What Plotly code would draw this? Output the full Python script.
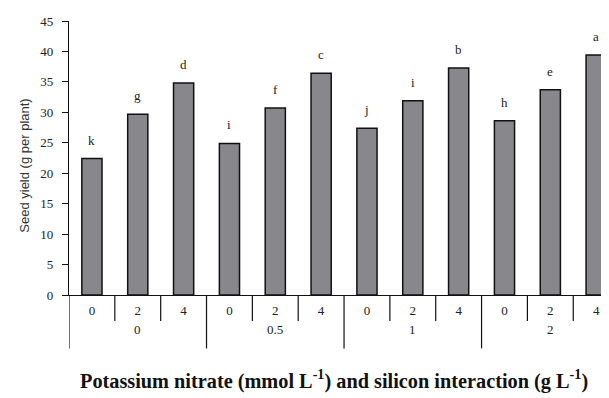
import plotly.graph_objects as go

silicon = ["0", "2", "4"]
potassium = ["0", "0.5", "1", "2"]
seed_yield = [22.4, 29.7, 34.8, 24.9, 30.7, 36.4, 27.4, 31.9, 37.3, 28.6, 33.7, 39.4]
letters = ["k", "g", "d", "i", "f", "c", "j", "i", "b", "h", "e", "a"]
y_ticks = [0, 5, 10, 15, 20, 25, 30, 35, 40, 45]

n = len(seed_yield)
xs = list(range(n))
tick_text = [silicon[i % 3] for i in xs]

fig = go.Figure()
fig.add_trace(go.Bar(
    x=xs, y=seed_yield, width=0.44,
    marker=dict(color="#88878c", line=dict(color="#111111", width=1.5)),
    showlegend=False, hoverinfo="skip",
))

serif = "Liberation Serif, Times New Roman, serif"
for i, (v, t) in enumerate(zip(seed_yield, letters)):
    fig.add_annotation(x=i, y=v, text=t, showarrow=False, yanchor="bottom",
                       yshift=9, font=dict(family=serif, size=13, color="#222"))

# category table lines below the axis
for b in range(-1, n):
    xb = b + 0.5
    is_group = (b + 1) % 3 == 0
    fig.add_shape(type="line", xref="x", yref="paper", x0=xb, x1=xb,
                  y0=0, y1=-0.195 if is_group else -0.095,
                  line=dict(color="#111", width=1.2))

for g, lab in enumerate(potassium):
    fig.add_annotation(x=g * 3 + 1, y=-0.125, xref="x", yref="paper", text=lab,
                       showarrow=False, yanchor="middle",
                       font=dict(family=serif, size=13, color="#222"))

fig.add_annotation(x=0.016, xref="paper", xanchor="left", y=-0.31, yref="paper", yanchor="middle",
                   text="<b>Potassium nitrate (mmol L<sup>-1</sup>) and silicon interaction (g L<sup>-1</sup>)</b>",
                   showarrow=False, font=dict(family=serif, size=20.3, color="#111"))

fig.add_annotation(x=-0.1, xref="paper", y=0.47, yref="paper", textangle=-90,
                   text="Seed yield (g per plant)", showarrow=False,
                   font=dict(family="Liberation Sans, Arial, sans-serif", size=13, color="#333"))

fig.update_layout(
    width=601, height=390,
    margin=dict(l=61, r=0, t=13, b=103),
    paper_bgcolor="white", plot_bgcolor="white",
    bargap=0.5,
    xaxis=dict(range=[-0.5, 11.28], tickmode="array", tickvals=xs, ticktext=tick_text,
               showline=True, linecolor="#111", linewidth=1.4, showgrid=False,
               zeroline=False, ticks="", ticklabelstandoff=3,
               tickfont=dict(family=serif, size=13, color="#222")),
    yaxis=dict(range=[0, 45], tickvals=y_ticks, showline=True, linecolor="#111",
               linewidth=1.4, showgrid=False, zeroline=False, ticks="outside",
               ticklen=6, tickcolor="#111", ticklabelstandoff=6, automargin=False,
               tickfont=dict(family=serif, size=13, color="#222")),
)

fig.write_html("out.html")
